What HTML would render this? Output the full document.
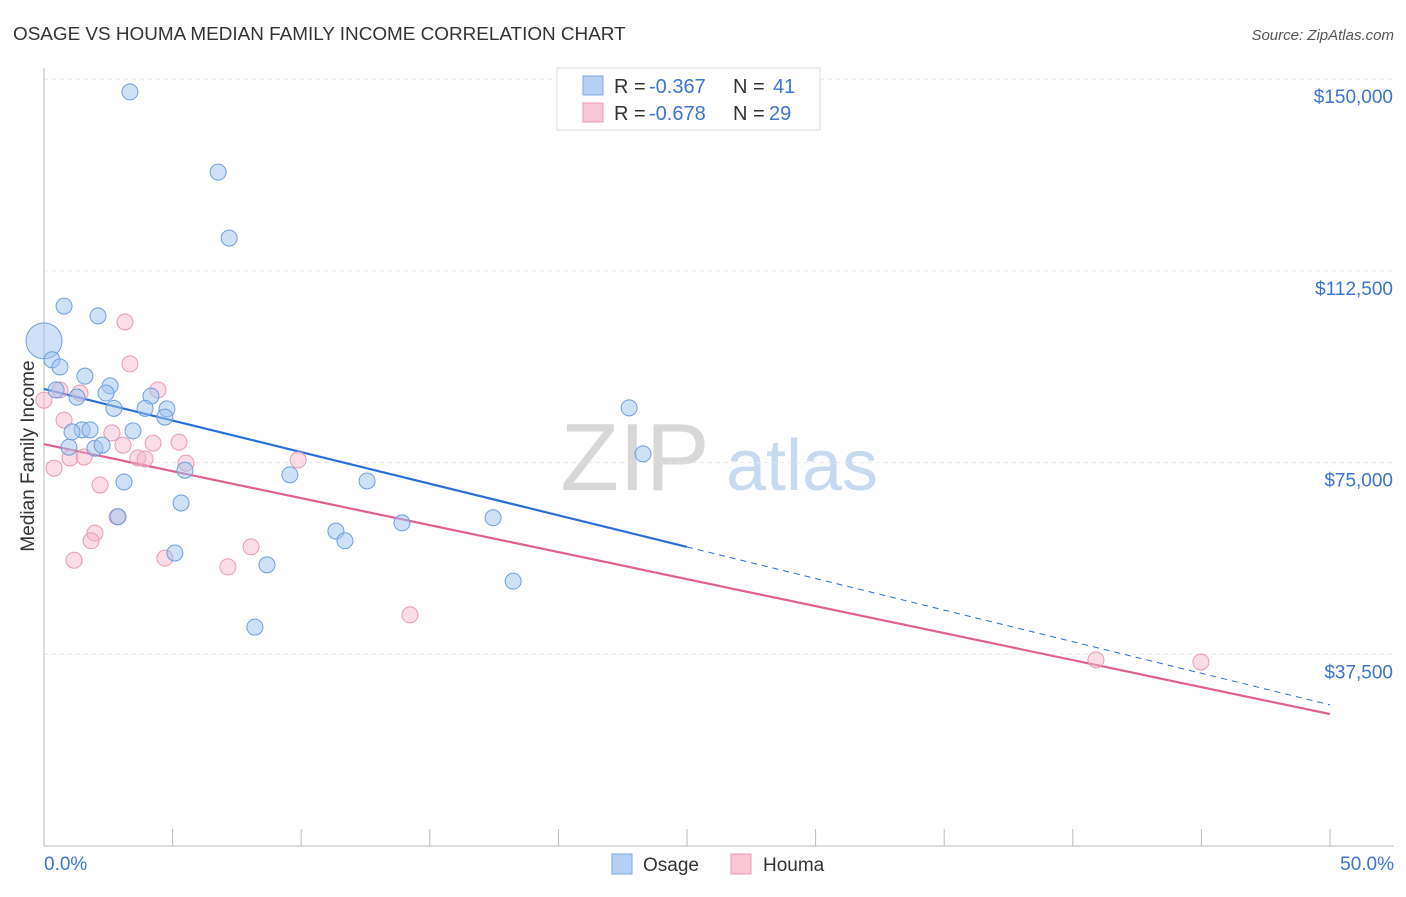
<!DOCTYPE html>
<html><head><meta charset="utf-8"><style>
body{margin:0;background:#fff;font-family:"Liberation Sans",sans-serif;}
svg text{font-family:"Liberation Sans",sans-serif;}
</style></head><body>
<svg id="chart" width="1406" height="892" xmlns="http://www.w3.org/2000/svg">
<text x="13" y="40" font-size="18.9" fill="#333">OSAGE VS HOUMA MEDIAN FAMILY INCOME CORRELATION CHART</text>
<text x="1394" y="40" font-size="15" fill="#555" text-anchor="end" font-style="italic">Source: ZipAtlas.com</text>
<g>
<text x="635" y="490" font-size="96" fill="#d8d8d8" text-anchor="middle" font-family="Liberation Serif">ZIP</text>
<text x="802" y="490" font-size="72" fill="#c8daf0" text-anchor="middle">atlas</text>
</g>
<g id="grid"></g>
<g id="axes"></g>
<g id="lines"></g>
<g id="points"></g>
<text transform="translate(34,456) rotate(-90)" font-size="19" fill="#333" text-anchor="middle">Median Family Income</text>
<g>
<rect x="557" y="68" width="263" height="62" fill="#fff" stroke="#ddd"/>
<rect x="583" y="76" width="20" height="19" fill="#b8d0f4" stroke="#7ea8e6"/>
<rect x="583" y="103" width="20" height="19" fill="#f8c6d5" stroke="#eb9ab4"/>
<text x="614" y="93" font-size="20" fill="#333">R =</text>
<text x="649" y="93" font-size="20" fill="#3a75d0">-0.367</text>
<text x="733" y="93" font-size="20" fill="#333">N =</text>
<text x="773" y="93" font-size="20" fill="#3a75d0">41</text>
<text x="614" y="120" font-size="20" fill="#333">R =</text>
<text x="649" y="120" font-size="20" fill="#3a75d0">-0.678</text>
<text x="733" y="120" font-size="20" fill="#333">N =</text>
<text x="769" y="120" font-size="20" fill="#3a75d0">29</text>
</g>
<g>
<rect x="612" y="854" width="20" height="20" fill="#b8d0f4" stroke="#7ea8e6"/>
<text x="643" y="871" font-size="19" fill="#333">Osage</text>
<rect x="731" y="854" width="20" height="20" fill="#f8c6d5" stroke="#eb9ab4"/>
<text x="763" y="871" font-size="19" fill="#333">Houma</text>
</g>
</svg>
<script>
const yTicks=[37500,75000,112500,150000];
const yTickLabels=["$37,500","$75,000","$112,500","$150,000"];
const xTickLabels=["0.0%","50.0%"];
const osageX=[3.34,6.77,7.2,0.78,2.1,0,0.31,0.62,1.59,2.57,0.47,1.28,2.41,4.16,2.72,3.93,4.78,4.7,22.75,1.48,1.79,1.09,3.46,0.97,1.98,2.26,23.29,5.48,9.56,12.56,3.11,5.33,2.88,17.46,13.92,11.35,11.7,5.09,8.67,18.24,8.2];
const osageY=[147500,131800,118900,105600,103700,98800,95100,93700,91900,90000,89200,87800,88600,88000,85600,85600,85500,83900,85700,81400,81400,81000,81200,78000,77800,78400,76700,73500,72600,71400,71200,67100,64400,64200,63200,61600,59700,57300,55000,51800,42800];
const houmaX=[0,0.62,1.4,0.78,3.15,3.34,4.43,2.64,4.24,5.25,3.07,1.01,1.56,3.65,3.93,5.52,9.88,0.39,2.18,2.84,1.98,1.83,1.17,4.7,8.05,7.15,14.23,40.9,44.98];
const houmaY=[87200,89200,88600,83300,102500,94300,89200,80800,78800,79000,78400,75900,76100,75900,75700,74900,75500,73900,70600,64400,61200,59700,55900,56300,58500,54600,45200,36400,36000];
const osageTrend=[89400,27600];
const houmaTrend=[78600,25800];
const ns="http://www.w3.org/2000/svg";
const X=v=>44+v*25.72, Y=v=>846-v/195.6;
function mk(t,a,p){const e=document.createElementNS(ns,t);for(const k in a)e.setAttribute(k,a[k]);p.appendChild(e);return e;}
const grid=document.getElementById('grid'),axes=document.getElementById('axes');
yTicks.forEach((t,i)=>{
 const l=mk('line',{x1:44,x2:1394,y1:Y(t),y2:Y(t),stroke:'#e6e6e6','stroke-dasharray':'4,4'},grid);
 
 
 const tx=mk('text',{x:1393,y:Y(t)+24,'font-size':19,fill:'#3a75d0','text-anchor':'end'},axes);
 tx.textContent=yTickLabels[i];
 
 
});
const ya=mk('line',{x1:44,x2:44,y1:68,y2:846,stroke:'#bbb'},axes);


const xa=mk('line',{x1:44,x2:1394,y1:846,y2:846,stroke:'#bbb'},axes);


for(let i=0;i<=10;i++){const t=mk('line',{x1:X(i*5),x2:X(i*5),y1:829,y2:846,stroke:'#bbb'},axes);
 
 }
[[0,'start',44],[50,'end',1394]].forEach((d,i)=>{const t=mk('text',{x:d[2],y:870,'font-size':19,fill:'#3a75d0','text-anchor':d[1]},axes);t.textContent=xTickLabels[i];
 
 });
const lines=document.getElementById('lines');
const yo=p=>osageTrend[0]+(osageTrend[1]-osageTrend[0])*p/50;
let e=mk('line',{x1:X(0),y1:Y(yo(0)),x2:X(25),y2:Y(yo(25)),stroke:'#2a6fd6','stroke-width':2.2},lines);


e=mk('line',{x1:X(25),y1:Y(yo(25)),x2:X(50),y2:Y(yo(50)),stroke:'#2a6fd6','stroke-width':1,'stroke-dasharray':'6,5'},lines);


e=mk('line',{x1:X(0),y1:Y(houmaTrend[0]),x2:X(50),y2:Y(houmaTrend[1]),stroke:'#e0608f','stroke-width':2.2},lines);


const pts=document.getElementById('points');
houmaX.forEach((x,i)=>{const c=mk('circle',{cx:X(x),cy:Y(houmaY[i]),r:8,fill:'rgba(245,180,200,0.45)',stroke:'#eb9ab4','stroke-width':1},pts);
 
 });
osageX.forEach((x,i)=>{const c=mk('circle',{cx:X(x),cy:Y(osageY[i]),r:(i==5?18:8),fill:'rgba(160,195,240,0.5)',stroke:'#6d9fe0','stroke-width':1},pts);
 
 });
</script>
</body></html>
